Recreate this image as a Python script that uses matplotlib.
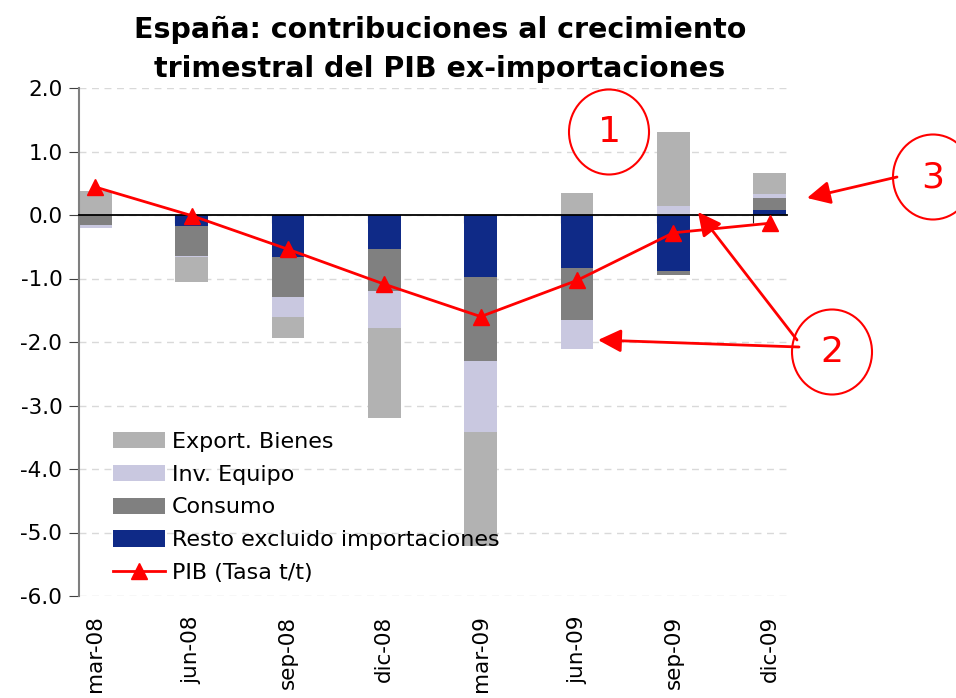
import numpy as np
import matplotlib
matplotlib.use("Agg")
import matplotlib.pyplot as plt
from matplotlib.patches import Ellipse, FancyArrowPatch

plt.rcParams['font.family'] = ['DejaVu Sans']
plt.rcParams['axes.unicode_minus'] = False

# trimestres
fechas = ["mar-08", "jun-08", "sep-08", "dic-08", "mar-09", "jun-09", "sep-09", "dic-09"]

# contribuciones (puntos porcentuales), orden de apilado de Excel
resto = [0.00, -0.18, -0.66, -0.54, -0.98, -0.83, -0.88, 0.08]
consumo = [-0.15, -0.46, -0.63, -0.66, -1.32, -0.83, -0.07, 0.19]
inv_equipo = [-0.05, -0.02, -0.31, -0.58, -1.11, -0.45, 0.14, 0.06]
export_bienes = [0.38, -0.39, -0.33, -1.42, -1.80, 0.35, 1.17, 0.33]
pib = [0.44, -0.01, -0.54, -1.09, -1.60, -1.03, -0.28, -0.13]

series = [
    ("Resto excluido importaciones", resto, "#0F2A87"),
    ("Consumo", consumo, "#808080"),
    ("Inv. Equipo", inv_equipo, "#C9C8E0"),
    ("Export. Bienes", export_bienes, "#B2B2B2"),
]

fig = plt.figure(figsize=(9.56, 6.98), dpi=100)
ax = fig.add_axes([79/956, 1-596/698, (787-79)/956, (596-88)/698])

x = np.arange(len(fechas))
ancho = 0.34
pos = np.zeros(len(fechas))
neg = np.zeros(len(fechas))
handles = {}
for nombre, vals, color in series:
    v = np.array(vals)
    base = np.where(v >= 0, pos, neg)
    handles[nombre] = ax.bar(x, v, ancho, bottom=base, align='edge', color=color,
                             label=nombre, zorder=2)
    pos = pos + np.where(v >= 0, v, 0)
    neg = neg + np.where(v < 0, v, 0)

linea, = ax.plot(x + ancho/2, pib, color="red", lw=2, marker="^", markersize=11,
                 label="PIB (Tasa t/t)", zorder=4)

ax.set_xlim(0, 7.35)
ax.set_ylim(-6, 2)
ax.set_yticks(np.arange(-6, 2.1, 1))
ax.set_yticklabels(["%.1f" % t for t in np.arange(-6, 2.1, 1)], fontsize=15.5)
ax.yaxis.grid(True, color="#D9D9D9", linestyle=(0, (5, 4)), lw=1, zorder=0)
ax.set_axisbelow(True)

for s in ["top", "right"]:
    ax.spines[s].set_visible(False)
ax.spines["left"].set_color("#7F7F7F")
ax.spines["left"].set_linewidth(1.5)
ax.spines["bottom"].set_position(("data", 0))
ax.spines["bottom"].set_zorder(3)
ax.spines["bottom"].set_linewidth(1.3)
ax.tick_params(axis="y", direction="out", length=7, color="#404040", pad=5)
ax.set_xticks(x)
ax.tick_params(axis="x", direction="out", length=6, labelbottom=False, color="#202020")

sec = ax.secondary_xaxis("bottom")
sec.set_xticks(x + ancho/2)
sec.set_xticklabels(fechas, rotation=90, fontsize=15.5, va="top")
sec.tick_params(length=0, pad=14)
sec.spines["bottom"].set_visible(False)

orden = ["Export. Bienes", "Inv. Equipo", "Consumo", "Resto excluido importaciones"]
ax.legend([handles[n] for n in orden] + [linea], orden + ["PIB (Tasa t/t)"],
          loc="upper left", bbox_to_anchor=(0.035, 0.341), frameon=False, fontsize=16,
          handlelength=2.35, handleheight=0.75, labelspacing=0.58, handletextpad=0.3,
          borderaxespad=0)

fig.text(440/956, 1-38/698, "España: contribuciones al crecimiento",
         ha="center", va="baseline", fontsize=20.5, fontweight="bold")
fig.text(440/956, 1-77/698, "trimestral del PIB ex-importaciones",
         ha="center", va="baseline", fontsize=20.5, fontweight="bold")

# anotaciones (circulos numerados y flechas), en pixeles de la figura
def px(xp, yp):
    return (xp/956, 1 - yp/698)

for num, (cx, cy) in zip(["1", "2", "3"], [(609, 132), (832, 352), (933, 177)]):
    e = Ellipse(px(cx, cy), 80/956, 85/698, transform=fig.transFigure,
                fill=False, edgecolor="red", lw=1.5, clip_on=False)
    fig.patches.append(e)
    fig.text(cx/956, 1 - cy/698, num, color="red", fontsize=26, ha="center", va="center")

flechas = [((897, 177), (807, 198)), ((799, 347), (598, 340)), ((797, 340), (698, 212))]
for ini, fin in flechas:
    a = FancyArrowPatch(px(*ini), px(*fin), transform=fig.transFigure,
                        arrowstyle="-|>,head_length=14,head_width=7", color="red",
                        lw=2, shrinkA=0, shrinkB=0, mutation_scale=1)
    fig.patches.append(a)

fig.savefig("out.png", dpi=100)
